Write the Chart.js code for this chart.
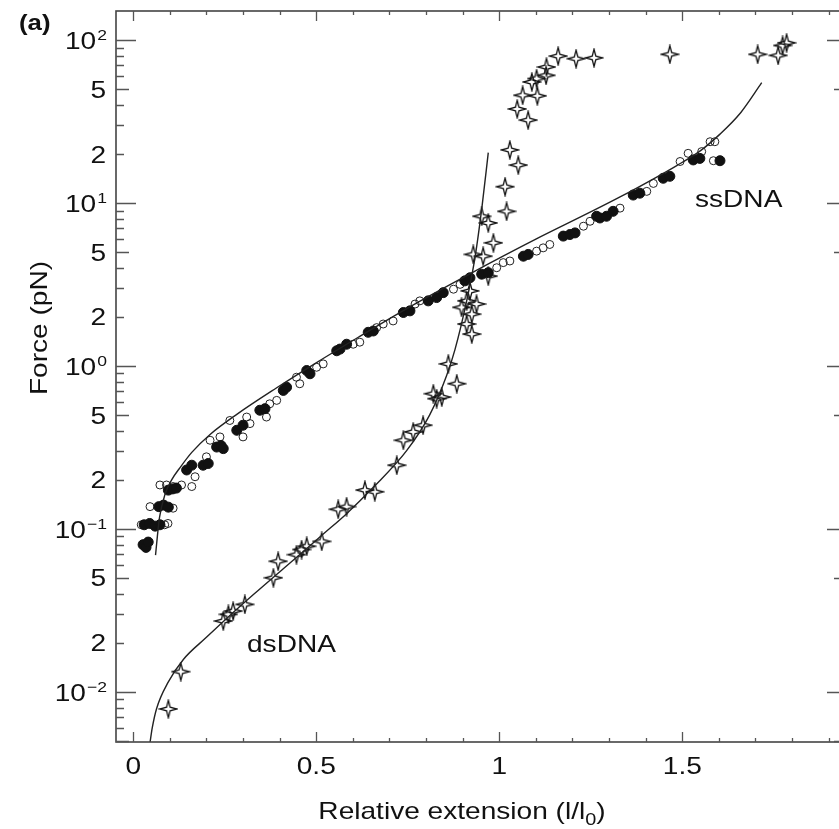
<!DOCTYPE html>
<html>
<head>
<meta charset="utf-8">
<script src="https://cdn.jsdelivr.net/npm/chart.js@4.4.1/dist/chart.umd.min.js"></script>
<style>
  html, body { margin: 0; padding: 0; background: #fff; overflow: hidden; }
  #wrap { width: 839px; height: 829px; overflow: hidden; }
  canvas { display: block; }
</style>
</head>
<body>
<div id="wrap"><canvas id="chart" width="860" height="829"></canvas></div>
<script>
// ssDNA measurements, filled circles (extension, force pN)
const ssFilledX = [0.027, 0.035, 0.041, 0.030, 0.045, 0.060, 0.073, 0.070, 0.083, 0.096, 0.096, 0.108, 0.118,
  0.146, 0.160, 0.191, 0.205, 0.228, 0.240, 0.246, 0.283, 0.300, 0.346, 0.360, 0.410, 0.419, 0.474, 0.483,
  0.556, 0.565, 0.583, 0.642, 0.656, 0.738, 0.756, 0.806, 0.829, 0.847, 0.906, 0.920, 0.952, 0.970, 1.066,
  1.079, 1.175, 1.193, 1.207, 1.266, 1.275, 1.293, 1.311, 1.366, 1.384, 1.448, 1.466, 1.530, 1.548, 1.603];
const ssFilledF = [0.080, 0.077, 0.083, 0.106, 0.108, 0.104, 0.106, 0.137, 0.140, 0.136, 0.173, 0.176, 0.178,
  0.230, 0.246, 0.246, 0.252, 0.318, 0.325, 0.311, 0.403, 0.433, 0.535, 0.547, 0.708, 0.741, 0.938, 0.896,
  1.24, 1.27, 1.36, 1.61, 1.64, 2.13, 2.18, 2.51, 2.63, 2.82, 3.33, 3.48, 3.66, 3.74, 4.72,
  4.84, 6.27, 6.41, 6.56, 8.30, 8.10, 8.30, 8.90, 11.2, 11.5, 14.2, 14.6, 18.4, 18.8, 18.2];

// ssDNA measurements, open circles
const ssOpenX = [0.022, 0.086, 0.095, 0.046, 0.109, 0.073, 0.091, 0.109, 0.132, 0.160, 0.169, 0.200, 0.210,
  0.237, 0.264, 0.300, 0.310, 0.319, 0.364, 0.373, 0.392, 0.446, 0.455, 0.501, 0.519, 0.601, 0.619, 0.665,
  0.683, 0.710, 0.770, 0.783, 0.875, 0.893, 0.993, 1.011, 1.029, 1.102, 1.120, 1.138, 1.230, 1.248, 1.330,
  1.403, 1.421, 1.494, 1.516, 1.553, 1.576, 1.589, 1.585];
const ssOpenF = [0.106, 0.106, 0.108, 0.137, 0.134, 0.186, 0.186, 0.182, 0.186, 0.182, 0.209, 0.277, 0.350,
  0.367, 0.463, 0.367, 0.486, 0.443, 0.486, 0.586, 0.615, 0.853, 0.778, 0.982, 1.03, 1.36, 1.40, 1.72,
  1.81, 1.89, 2.40, 2.51, 2.96, 3.17, 4.01, 4.31, 4.41, 5.07, 5.31, 5.57, 7.21, 7.73, 9.31,
  11.8, 13.2, 18.0, 20.2, 20.7, 23.8, 23.8, 18.2];

// dsDNA measurements, open stars
const dsStarX = [0.096, 0.130, 0.246, 0.260, 0.273, 0.305, 0.383, 0.396, 0.446, 0.460, 0.474, 0.515, 0.560,
  0.583, 0.633, 0.660, 0.720, 0.738, 0.765, 0.792, 0.820, 0.829, 0.843, 0.861, 0.884, 0.897, 0.911, 0.925,
  0.938, 0.911, 0.925, 0.920, 0.970, 0.929, 0.956, 0.984, 0.952, 0.970, 1.020, 1.016, 1.052, 1.029, 1.079,
  1.049, 1.064, 1.104, 1.089, 1.102, 1.128, 1.129, 1.161, 1.210, 1.259, 1.466, 1.706, 1.762, 1.774, 1.785];
const dsStarF = [0.00785, 0.0133, 0.0272, 0.0299, 0.0313, 0.0344, 0.0501, 0.0633, 0.0695, 0.0747, 0.0782, 0.0838, 0.132,
  0.137, 0.173, 0.169, 0.246, 0.350, 0.394, 0.433, 0.676, 0.630, 0.644, 1.03, 0.778, 2.29, 2.51, 2.08,
  2.40, 1.81, 1.57, 2.89, 3.56, 4.84, 4.72, 5.70, 8.30, 7.55, 8.90, 12.6, 17.1, 21.2, 32.3,
  37.8, 45.9, 45.5, 55.4, 58.1, 60.8, 68.4, 79.8, 76.9, 77.9, 81.8, 81.8, 80.6, 92.8, 96.3];

// model curves
const ssFitX = [0.061, 0.066, 0.072, 0.087, 0.105, 0.128, 0.160, 0.210, 0.283, 0.392, 0.501, 0.619, 0.738,
  0.925, 1.100, 1.240, 1.330, 1.485, 1.550, 1.603, 1.660, 1.717];
const ssFitF = [0.069, 0.090, 0.118, 0.163, 0.200, 0.238, 0.295, 0.380, 0.505, 0.735, 1.05, 1.52, 2.19,
  3.73, 6.00, 8.60, 10.9, 17.0, 21.0, 26.5, 36.0, 54.8];
const dsFitX = [0.046, 0.052, 0.064, 0.096, 0.137, 0.200, 0.250, 0.330, 0.410, 0.460, 0.520, 0.583, 0.656,
  0.747, 0.810, 0.856, 0.879, 0.911, 0.934, 0.953, 0.970];
const dsFitF = [0.0049, 0.0060, 0.0079, 0.0115, 0.0158, 0.0216, 0.0275, 0.0398, 0.0569, 0.0711, 0.0933, 0.124, 0.180,
  0.302, 0.501, 0.871, 1.26, 2.51, 4.68, 9.55, 20.4];

// axes
const xTickValues = [0, 0.5, 1, 1.5];
const xTickLabels = ['0', '0.5', '1', '1.5'];
const yTickValues = [100, 50, 20, 10, 5, 2, 1, 0.5, 0.2, 0.1, 0.05, 0.02, 0.01];
const yTickLabels = ['10^2', '5', '2', '10^1', '5', '2', '10^0', '5', '2', '10^−1', '5', '2', '10^−2'];

const FONT = '"Liberation Sans", Arial, Helvetica, sans-serif';
const SX = 1.17; // the original lettering is a bit wide

const pts = (xs, ys) => xs.map((x, i) => ({ x: x, y: ys[i] }));

// four pointed open star marker
function makeStar() {
  const c = document.createElement('canvas');
  c.width = 20; c.height = 20;
  const g = c.getContext('2d');
  g.translate(10, 10);
  g.beginPath();
  for (let i = 0; i < 8; i++) {
    const a = i * Math.PI / 4 - Math.PI / 2;
    const r = i % 2 === 0 ? 8.7 : 2.5;
    g.lineTo(Math.cos(a) * r, Math.sin(a) * r);
  }
  g.closePath();
  g.strokeStyle = '#111';
  g.lineWidth = 1.3;
  g.stroke();
  return c;
}

function text(ctx, str, x, y, size, align, bold) {
  ctx.save();
  ctx.translate(x, y);
  ctx.scale(SX, 1);
  ctx.font = (bold ? 'bold ' : '') + size + 'px ' + FONT;
  ctx.textAlign = align || 'left';
  ctx.textBaseline = 'alphabetic';
  ctx.fillStyle = '#111';
  ctx.fillText(str, 0, 0);
  ctx.restore();
}

function width(ctx, str, size) {
  ctx.font = size + 'px ' + FONT;
  return ctx.measureText(str).width * SX;
}

const framePlugin = {
  id: 'frame',
  afterDraw(chart) {
    const ctx = chart.ctx;
    const a = chart.chartArea;
    const xs = chart.scales.x, ys = chart.scales.y;

    ctx.save();
    ctx.strokeStyle = '#444';
    ctx.lineWidth = 1.6;
    ctx.strokeRect(a.left, a.top, a.right - a.left, a.bottom - a.top);

    // log ticks on left and right
    ctx.strokeStyle = '#555';
    ctx.lineWidth = 1.3;
    ctx.beginPath();
    for (let e = -3; e <= 2; e++) {
      for (let k = 1; k <= 9; k++) {
        const v = k * Math.pow(10, e);
        if (v < ys.min || v > ys.max) continue;
        const py = Math.round(ys.getPixelForValue(v)) + 0.5;
        const len = k === 1 ? 20 : (k === 5 ? 13 : 8);
        ctx.moveTo(a.left, py); ctx.lineTo(a.left + len, py);
        ctx.moveTo(a.right, py); ctx.lineTo(a.right - len, py);
      }
    }
    // linear ticks on bottom and top
    for (let i = 0; i <= 19; i++) {
      const px = Math.round(xs.getPixelForValue(i / 10)) + 0.5;
      const len = i % 5 === 0 ? 10 : 4;
      ctx.moveTo(px, a.bottom); ctx.lineTo(px, a.bottom - len);
      ctx.moveTo(px, a.top); ctx.lineTo(px, a.top + len);
    }
    ctx.stroke();

    // y tick labels
    const right = 106;
    yTickValues.forEach((v, i) => {
      const py = ys.getPixelForValue(v);
      const lab = yTickLabels[i];
      if (lab.indexOf('^') >= 0) {
        const parts = lab.split('^');
        const wb = width(ctx, parts[0], 24);
        const we = width(ctx, parts[1], 15);
        const x0 = right - wb - we;
        text(ctx, parts[0], x0, py + 9, 24, 'left');
        text(ctx, parts[1], x0 + wb + 1, py, 15, 'left');
      } else {
        text(ctx, lab, right, py + 8.5, 24, 'right');
      }
    });

    // x tick labels
    xTickValues.forEach((v, i) => {
      text(ctx, xTickLabels[i], xs.getPixelForValue(v), 774, 24, 'center');
    });

    // x title with subscript
    const t1 = 'Relative extension (l/l', t2 = '0', t3 = ')';
    const w1 = width(ctx, t1, 24), w2 = width(ctx, t2, 17), w3 = width(ctx, t3, 24);
    let tx = 462 - (w1 + w2 + w3) / 2;
    text(ctx, t1, tx, 819, 24); tx += w1;
    text(ctx, t2, tx, 825, 17); tx += w2;
    text(ctx, t3, tx, 819, 24);

    // y title
    ctx.save();
    ctx.translate(47, 328);
    ctx.rotate(-Math.PI / 2);
    text(ctx, 'Force (pN)', 0, 0, 24, 'center');
    ctx.restore();

    // labels
    text(ctx, 'ssDNA', 695, 207, 24, 'left');
    text(ctx, 'dsDNA', 247, 652, 24, 'left');
    text(ctx, '(a)', 19, 30, 22, 'left', true);
    ctx.restore();
  }
};

const starImg = makeStar();

new Chart(document.getElementById('chart'), {
  type: 'scatter',
  data: {
    datasets: [
      {
        label: 'ssDNA model',
        data: pts(ssFitX, ssFitF),
        showLine: true,
        borderColor: '#222',
        borderWidth: 1.4,
        pointRadius: 0,
        cubicInterpolationMode: 'monotone',
        order: 1
      },
      {
        label: 'dsDNA model',
        data: pts(dsFitX, dsFitF),
        showLine: true,
        borderColor: '#222',
        borderWidth: 1.4,
        pointRadius: 0,
        cubicInterpolationMode: 'monotone',
        order: 1
      },
      {
        label: 'ssDNA open',
        data: pts(ssOpenX, ssOpenF),
        pointStyle: 'circle',
        pointRadius: 4,
        borderWidth: 1,
        borderColor: '#222',
        backgroundColor: 'rgba(0,0,0,0)',
        order: 3
      },
      {
        label: 'ssDNA filled',
        data: pts(ssFilledX, ssFilledF),
        pointStyle: 'circle',
        pointRadius: 5,
        borderWidth: 1,
        borderColor: '#111',
        backgroundColor: '#111',
        order: 2
      },
      {
        label: 'dsDNA',
        data: pts(dsStarX, dsStarF),
        pointStyle: starImg,
        pointRadius: 10,
        order: 2
      }
    ]
  },
  options: {
    responsive: false,
    animation: false,
    devicePixelRatio: 1,
    layout: { padding: { left: 116, top: 9, right: 13, bottom: 87 } },
    plugins: {
      legend: { display: false },
      tooltip: { enabled: false }
    },
    scales: {
      x: { type: 'linear', min: -0.047, max: 1.95, display: false },
      y: { type: 'logarithmic', min: 0.00492, max: 151, display: false }
    }
  },
  plugins: [framePlugin]
});
</script>
</body>
</html>
